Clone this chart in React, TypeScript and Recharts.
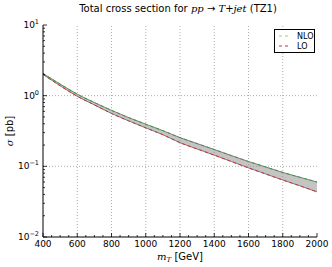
import React from 'react';
import { ComposedChart, Area, Line, XAxis, YAxis, ReferenceLine } from 'recharts';

const masses = [400, 500, 600, 700, 800, 900, 1000, 1100, 1200, 1300, 1400, 1500, 1600, 1700, 1800, 1900, 2000];
const nloUpper = [2.06, 1.46, 1.05, 0.80, 0.62, 0.49, 0.395, 0.32, 0.255, 0.21, 0.173, 0.142, 0.117, 0.098, 0.082, 0.070, 0.060];
const loLower = [2.0, 1.38, 0.98, 0.74, 0.56, 0.44, 0.35, 0.28, 0.216, 0.176, 0.144, 0.117, 0.095, 0.078, 0.064, 0.053, 0.0435];

const xMajorTicks = [400, 600, 800, 1000, 1200, 1400, 1600, 1800, 2000];
const xAllTicks = [400, 450, 500, 550, 600, 650, 700, 750, 800, 850, 900, 950, 1000, 1050, 1100, 1150, 1200, 1250, 1300, 1350, 1400, 1450, 1500, 1550, 1600, 1650, 1700, 1750, 1800, 1850, 1900, 1950, 2000];
const yMajorTicks = [0.01, 0.1, 1, 10];
const yMajorExponents = ['-2', '-1', '0', '1'];
const yAllTicks = [0.01, 0.02, 0.03, 0.04, 0.05, 0.06, 0.07, 0.08, 0.09, 0.1, 0.2, 0.3, 0.4, 0.5, 0.6, 0.7, 0.8, 0.9, 1, 2, 3, 4, 5, 6, 7, 8, 9, 10];

const data = masses.map((m, i) => ({ m, nlo: nloUpper[i], lo: loLower[i], band: [loLower[i], nloUpper[i]] }));

const FONT = 'DejaVu Sans, sans-serif';
const SERIF = 'DejaVu Serif, serif';
const isMajorY = (v: number) => yMajorTicks.some((t) => Math.abs(t - v) < 1e-9);

const XBottomTick = (props: any) => {
  const { x, y, payload } = props;
  const major = xMajorTicks.includes(payload.value);
  return (
    <g>
      <line x1={x} x2={x} y1={y} y2={y - (major ? 4 : 2)} stroke="#000" strokeWidth={0.8} />
      {major && (
        <text x={x} y={y + 10} textAnchor="middle" fontSize={9} fontFamily={FONT} fill="#000">
          {payload.value}
        </text>
      )}
    </g>
  );
};

const XTopTick = (props: any) => {
  const { x, y, payload } = props;
  const major = xMajorTicks.includes(payload.value);
  return <line x1={x} x2={x} y1={y} y2={y + (major ? 4 : 2)} stroke="#000" strokeWidth={0.8} />;
};

const YLeftTick = (props: any) => {
  const { x, y, payload } = props;
  const major = isMajorY(payload.value);
  const idx = yMajorTicks.findIndex((t) => Math.abs(t - payload.value) < 1e-9);
  return (
    <g>
      <line x1={x} x2={x + (major ? 4 : 2)} y1={y} y2={y} stroke="#000" strokeWidth={0.8} />
      {major && (
        <text x={x - 4} y={y + 3} textAnchor="end" fontSize={9} fontFamily={FONT} fill="#000">
          10
          <tspan fontSize={6.5} dy={-4}>{yMajorExponents[idx].replace('-', '\u2212')}</tspan>
        </text>
      )}
    </g>
  );
};

const YRightTick = (props: any) => {
  const { x, y, payload } = props;
  const major = isMajorY(payload.value);
  return <line x1={x} x2={x - (major ? 4 : 2)} y1={y} y2={y} stroke="#000" strokeWidth={0.8} />;
};

export default function App() {
  return (
    <div style={{ position: 'absolute', left: 0, top: 0, width: 332, height: 267, background: '#fff' }}>
      <ComposedChart width={332} height={267} data={data} margin={{ top: 25, right: 15, bottom: 0, left: 3 }}>
        <XAxis xAxisId="b" dataKey="m" type="number" domain={[400, 2000]} ticks={xAllTicks} interval={0}
          tickSize={0} tickMargin={0} tick={<XBottomTick />} stroke="#000" height={30} />
        <XAxis xAxisId="t" orientation="top" dataKey="m" type="number" domain={[400, 2000]} ticks={xAllTicks} interval={0}
          tickSize={0} tickMargin={0} tick={<XTopTick />} stroke="#000" height={0} />
        <YAxis yAxisId="l" scale="log" type="number" domain={[0.01, 10]} allowDataOverflow ticks={yAllTicks} interval={0}
          tickSize={0} tickMargin={0} tick={<YLeftTick />} stroke="#000" width={40} />
        <YAxis yAxisId="r" orientation="right" scale="log" type="number" domain={[0.01, 10]} allowDataOverflow ticks={yAllTicks} interval={0}
          tickSize={0} tickMargin={0} tick={<YRightTick />} stroke="#000" width={0} />
        {xMajorTicks.slice(1, -1).map((t) => (
          <ReferenceLine key={'gx' + t} x={t} xAxisId="b" yAxisId="l" stroke="#999" strokeDasharray="1 2" strokeWidth={0.8} />
        ))}
        {yMajorTicks.slice(1, -1).map((t) => (
          <ReferenceLine key={'gy' + t} y={t} xAxisId="b" yAxisId="l" stroke="#999" strokeDasharray="1 2" strokeWidth={0.8} />
        ))}
        <Area xAxisId="b" yAxisId="l" dataKey="band" type="monotone" fill="#c4c4c4" fillOpacity={1} stroke="#666" strokeWidth={0.8} isAnimationActive={false} />
        <Line xAxisId="b" yAxisId="l" dataKey="nlo" type="monotone" stroke="#3a9a3a" strokeWidth={1} strokeDasharray="3 3" dot={false} isAnimationActive={false} />
        <Line xAxisId="b" yAxisId="l" dataKey="lo" type="monotone" stroke="#c8323a" strokeWidth={1} strokeDasharray="3 3" dot={false} isAnimationActive={false} />
      </ComposedChart>
      <div style={{ position: 'absolute', left: 0, width: 356, top: 3, lineHeight: '12px', textAlign: 'center', fontFamily: FONT, fontSize: 10, whiteSpace: 'nowrap' }}>
        Total cross section for <span style={{ fontFamily: SERIF, fontStyle: 'italic' }}>pp</span>
        {' \u2192 '}
        <span style={{ fontFamily: SERIF, fontStyle: 'italic' }}>T</span>+<span style={{ fontFamily: SERIF, fontStyle: 'italic' }}>jet</span> (TZ1)
      </div>
      <div style={{ position: 'absolute', left: 0, width: 360, top: 251, height: 13, lineHeight: '12px', textAlign: 'center', fontFamily: FONT, fontSize: 10, whiteSpace: 'nowrap' }}>
        <span style={{ fontFamily: SERIF, fontStyle: 'italic' }}>m</span>
        <span style={{ fontFamily: SERIF, fontStyle: 'italic', fontSize: 7, position: 'relative', top: 2 }}>T</span> [GeV]
      </div>
      <div style={{ position: 'absolute', left: 10, top: 131, lineHeight: '12px', transform: 'translate(-50%, -50%) rotate(-90deg)', fontFamily: FONT, fontSize: 10, whiteSpace: 'nowrap' }}>
        <span style={{ fontFamily: SERIF, fontStyle: 'italic' }}>σ</span> [pb]
      </div>
      <div style={{ position: 'absolute', left: 274, top: 29, width: 39, height: 22, border: '1px solid #000', background: '#fff' }}>
        <svg width={39} height={22} style={{ position: 'absolute', left: 0, top: 0 }}>
          <line x1={4} x2={16} y1={6} y2={6} stroke="#8fcf8f" strokeWidth={1} strokeDasharray="3 3" />
          <line x1={4} x2={16} y1={16} y2={16} stroke="#c8323a" strokeWidth={1} strokeDasharray="3 3" />
          <text x={22} y={9} fontSize={8} fontFamily={FONT}>NLO</text>
          <text x={22} y={19} fontSize={8} fontFamily={FONT}>LO</text>
        </svg>
      </div>
    </div>
  );
}
